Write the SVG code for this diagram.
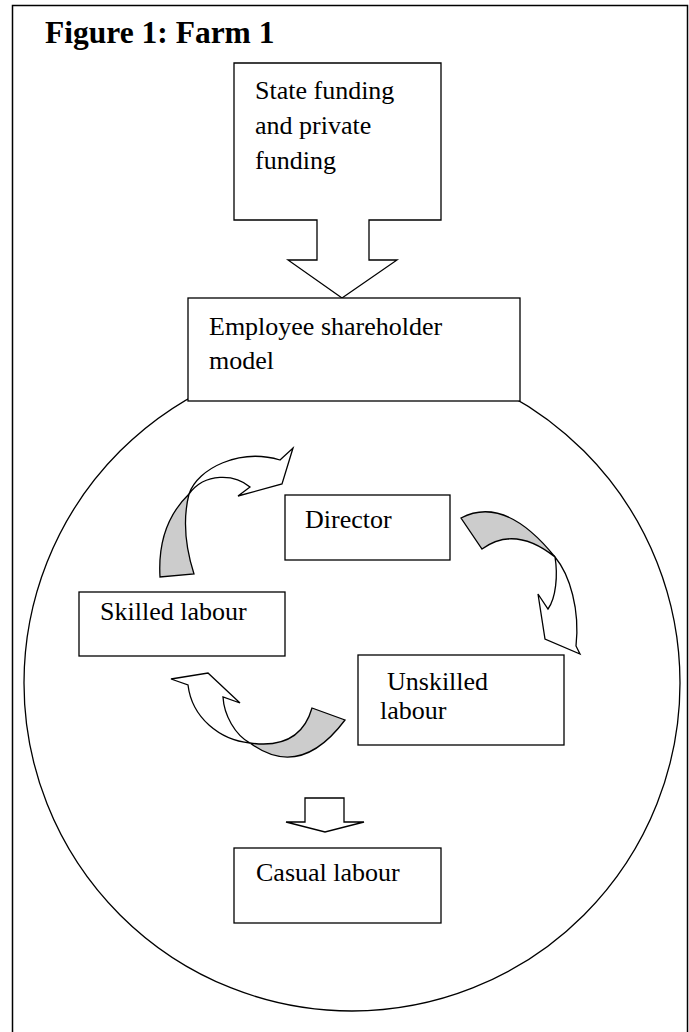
<svg xmlns="http://www.w3.org/2000/svg" width="689" height="1032" viewBox="0 0 689 1032">
<style>
.b{fill:#fff;stroke:#000;stroke-width:1.3}
.t{font-family:"Liberation Serif","Times New Roman",serif;font-size:26px;fill:#000}
.ti{font-family:"Liberation Serif","Times New Roman",serif;font-size:31.5px;font-weight:bold;fill:#000}
.w{fill:#fff;stroke:#000;stroke-width:1.3;stroke-linejoin:miter}
.g{fill:#cccccc;stroke:#000;stroke-width:1.3;stroke-linejoin:miter}
</style>
<rect width="689" height="1032" fill="#fff"/>
<rect id="frame" x="12.5" y="5.5" width="675" height="1040" fill="none" stroke="#000" stroke-width="1.5"/>
<text id="title" class="ti" x="45" y="43">Figure 1: Farm 1</text>
<circle id="farm-circle" cx="352" cy="683" r="328" fill="none" stroke="#000" stroke-width="1.3"/>
<g id="funding">
<path class="b" d="M234,63 H441 V220 H369 V260 H397 L342,298 L288,260 H317 V220 H234 Z"/>
<text class="t" x="255" y="99">State funding</text>
<text class="t" x="255" y="134">and private</text>
<text class="t" x="255" y="169">funding</text>
</g>
<g id="employee">
<rect class="b" x="188" y="298" width="332" height="103"/>
<text class="t" x="209" y="335">Employee shareholder</text>
<text class="t" x="209" y="369">model</text>
</g>
<g id="director">
<rect class="b" x="285" y="495" width="165" height="65"/>
<text class="t" x="305" y="528">Director</text>
</g>
<g id="skilled">
<rect class="b" x="79" y="592" width="206" height="64"/>
<text class="t" x="100" y="620">Skilled labour</text>
</g>
<g id="unskilled">
<rect class="b" x="358" y="655" width="206" height="90"/>
<text class="t" x="387" y="690">Unskilled</text>
<text class="t" x="380" y="719">labour</text>
</g>
<g id="casual">
<rect class="b" x="234" y="848" width="207" height="75"/>
<text class="t" x="256" y="881">Casual labour</text>
</g>
<g id="connectors">
<g id="skilled-to-director">
<path class="g" d="M189,494 Q157,525 160,577 L194,574 Q180,530 189,494 Z"/>
<path class="w" d="M189,494 C198,468 240,448 280,460 L293,448 L282,484 L238,496 L250,487 C235,474 205,472 189,494 Z"/>
</g>
<g id="director-to-unskilled">
<path class="g" d="M461,518 Q505,495 555,557 Q515,525 482,549 Z"/>
<path class="w" d="M555,557 C570,575 580,610 576,646 L580,654 L545,639 L538,594 L548,609 C556,598 558,575 555,557 Z"/>
</g>
<g id="unskilled-to-skilled">
<path class="g" d="M250,743 Q300,780 345,720 L312,708 Q300,750 250,743 Z"/>
<path class="w" d="M250,743 C220,740 192,718 188,685 L171,679 L208,673 L240,703 L223,697 C224,715 235,735 250,743 Z"/>
</g>
<path id="to-casual" class="w" d="M305,798 H344 V822 H364 L325,832 L286,822 H305 Z"/>
</g>
</svg>
